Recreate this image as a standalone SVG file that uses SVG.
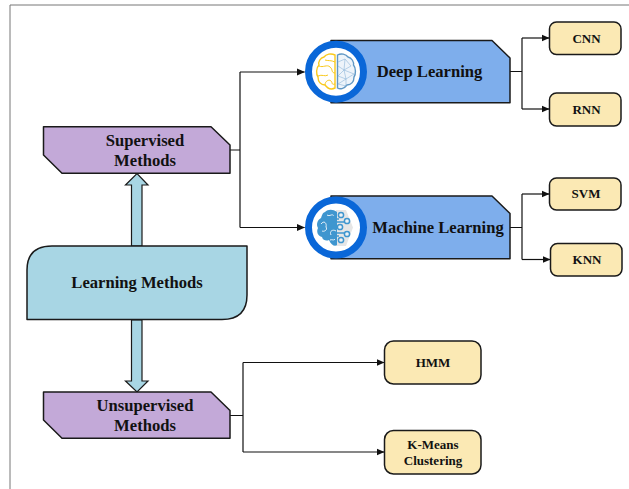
<svg xmlns="http://www.w3.org/2000/svg" width="629" height="489" viewBox="0 0 629 489">
<defs>
<style>
text{font-family:"Liberation Serif","Times New Roman",serif;font-weight:bold;fill:#111;text-anchor:middle}
.box{stroke:#1a1a1a;stroke-width:1.5;stroke-linejoin:round}
.pur{fill:#c3a9d8}.blu{fill:#7eaeec}.teal{fill:#a8d6e4}.yel{fill:#fbe9b4}
.con{fill:none;stroke:#111;stroke-width:1.2}
.ring{fill:#fff;stroke:#0a67d8;stroke-width:7}
.t15{font-size:16.6px}.t13{font-size:13px}
.y{fill:#fff;stroke:#f9c91c;stroke-width:1.4}
.y2{fill:none;stroke:#f9c91c;stroke-width:1}
.b{fill:#eef4fa;stroke:#5f97c4;stroke-width:1.4}
.b2{fill:none;stroke:#8db6d8;stroke-width:.6}
.ic{fill:#3f96cf}
.ico{fill:#eef2f5;stroke:#3f96cf;stroke-width:1.5}
.icl{fill:none;stroke:#3f96cf;stroke-width:1.3}
.icw{fill:none;stroke:#e8f2f9;stroke-width:1}
</style>
<marker id="ah" viewBox="0 0 8 8" refX="7.5" refY="4" markerWidth="8" markerHeight="8" markerUnits="userSpaceOnUse" orient="auto"><path d="M0 0.5L8 4L0 7.5Z" fill="#111"/></marker>
</defs>
<rect width="629" height="489" fill="#fff"/>
<path d="M10 489V5H629" fill="none" stroke="#777" stroke-width="1"/>
<g id="connectors">
<path class="con" d="M230 150H240M240 72V227.500"/>
<path class="con" marker-end="url(#ah)" d="M240 72H304.500"/>
<path class="con" marker-end="url(#ah)" d="M240 227.500H304.500"/>
<path class="con" d="M510 71.500H522M522 38V109"/>
<path class="con" marker-end="url(#ah)" d="M522 38H549"/>
<path class="con" marker-end="url(#ah)" d="M522 109H549"/>
<path class="con" d="M510 227.500H522M522 194V259.500"/>
<path class="con" marker-end="url(#ah)" d="M522 194H549"/>
<path class="con" marker-end="url(#ah)" d="M522 259.500H550"/>
<path class="con" d="M230 415.500H243M243 362.500V452"/>
<path class="con" marker-end="url(#ah)" d="M243 362.500H384"/>
<path class="con" marker-end="url(#ah)" d="M243 452H384"/>
<path class="teal" stroke="#1a1a1a" stroke-width="1.2" d="M131.500 246V185H125.500L137 173.500L148 185H142V246Z"/>
<path class="teal" stroke="#1a1a1a" stroke-width="1.2" d="M131.500 320V381H125.500L137 392L148 381H142V320Z"/>
</g>
<g id="learning-methods">
<path class="box teal" d="M27 319.500V270Q27 246 52 246H247V295Q247 319.500 222 319.500Z"/>
<text class="t15" x="137" y="288">Learning Methods</text>
</g>
<g id="supervised">
<path class="box pur" d="M43.500 126.700H211L230 145V173.300H62L43.500 155Z"/>
<text class="t15" x="145" y="146">Supervised</text>
<text class="t15" x="145" y="166">Methods</text>
</g>
<g id="unsupervised">
<path class="box pur" d="M43.500 392H211L230 410.500V438.300H62L43.500 420Z"/>
<text class="t15" x="145" y="411">Unsupervised</text>
<text class="t15" x="145" y="431">Methods</text>
</g>
<g id="deep-learning">
<path class="box blu" d="M331 40.500H492L510 58V102.700H331Z"/>
<circle class="ring" cx="336" cy="71.700" r="27.500"/>
<path class="y" d="M335 55C331 53 326 54 324 57C320 58 318 62 319 65C316 68 316 74 318 77C318 82 321 85 325 85C328 89 332 89.500 335 88Z"/>
<path class="y2" d="M335 62C331 60 328 61 325 60M319 66C323 68 327 64 330 67C333 69 331 73 335 73M318 76C322 74 325 77 328 75M325 85C325 81 329 79 331 81C333 83 331 85 335 84"/>
<path class="b" d="M337.500 55C341 53 346 54 348 57C352 58 354 62 353.500 65C356 68 356 74 354 77C354 82 351 85 347 85C344 89 340 89.500 337.500 88Z"/>
<path class="b2" d="M338 62L345 59L351 66L344 70L338 66M344 70L354 74L346 79L338 76M346 79L346 86L338 84M345 59L344 70L346 79M338 76L344 70M346 79L338 84"/>
<text class="t15" x="429.500" y="76.500">Deep Learning</text>
</g>
<g id="machine-learning">
<path class="box blu" d="M331 196H492L510 213.500V258.700H331Z"/>
<circle class="ring" cx="336" cy="227.500" r="27.500"/>
<path d="M336 210H346L353 227.500L346 246H336Z" fill="#e6e6e6"/>
<path class="ic" d="M337 212C333 209 328 209 325 212C322 213 322 216 321 218C317 220 316 225 318 228C316 232 318 236 322 237C323 241 327 241 329 240C331 245 335 247 337 245Z"/>
<path class="icw" d="M327 215C330 217 332 213 334 216M321 224C324 220 327 223 326 227C328 230 324 232 322 231M331 235C329 231 333 229 336 231M330 240C332 239 334 241 335 239"/>
<path class="icl" d="M333 216L337 219H339M332 222H345M331 227H337M332 233H345M333 239L337 236H339"/>
<circle class="ico" cx="341" cy="215" r="2.600"/>
<circle class="ico" cx="347" cy="221" r="2.600"/>
<circle class="ico" cx="340" cy="227" r="2.600"/>
<circle class="ico" cx="347" cy="234" r="2.600"/>
<circle class="ico" cx="341" cy="240" r="2.600"/>
<text class="t15" x="438" y="232.500">Machine Learning</text>
</g>
<g id="cnn"><rect class="box yel" x="549.500" y="22" width="71.500" height="32.500" rx="7"/><text class="t13" x="586.500" y="42.500">CNN</text></g>
<g id="rnn"><rect class="box yel" x="549.500" y="93" width="71.500" height="33" rx="7"/><text class="t13" x="586.500" y="114">RNN</text></g>
<g id="svm"><rect class="box yel" x="549.500" y="178" width="71.500" height="32" rx="7"/><text class="t13" x="586" y="198">SVM</text></g>
<g id="knn"><rect class="box yel" x="550.500" y="243.500" width="71.500" height="32.500" rx="7"/><text class="t13" x="587" y="264">KNN</text></g>
<g id="hmm"><rect class="box yel" x="384.500" y="341" width="96.500" height="43" rx="9"/><text class="t13" x="433" y="367">HMM</text></g>
<g id="kmeans"><rect class="box yel" x="384.500" y="430.500" width="96.500" height="43.500" rx="9"/><text class="t13" x="433" y="449">K-Means</text><text class="t13" x="433" y="465">Clustering</text></g>
</svg>
